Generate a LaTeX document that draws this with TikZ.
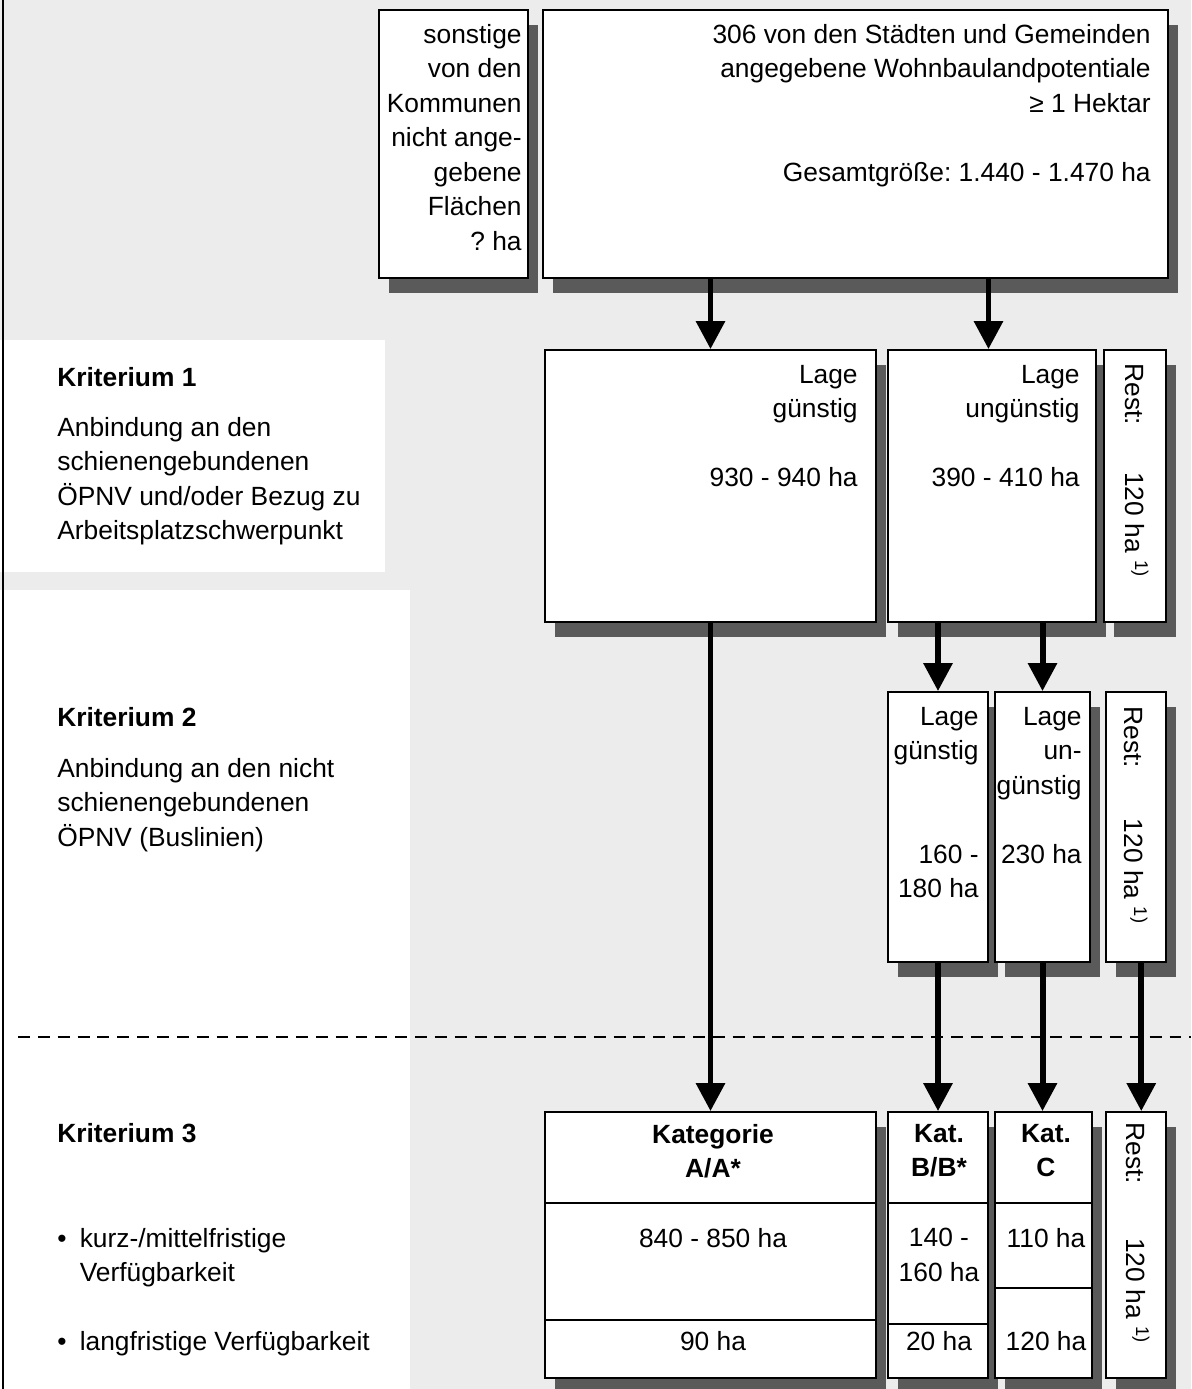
\documentclass[tikz,border=0pt]{standalone}
\usepackage{fontspec}
\setmainfont{Liberation Sans}
\usetikzlibrary{arrows.meta,fit,shadows}
\frenchspacing
\definecolor{scanGray}{HTML}{ECECEC}
\definecolor{shadeGray}{HTML}{5A5A5A}
\tikzset{
  box/.style={draw, line width=1pt, fill=white, inner sep=0pt,
    drop shadow={shadow xshift=5.8pt, shadow yshift=-8.5pt, fill=shadeGray, opacity=1}},
  flow/.style={-{Triangle[width=16pt,length=16pt]}, line width=3.4pt},
  rule/.style={line width=1pt},
  sep/.style={line width=1.2pt, dash pattern=on 6.8pt off 4.5pt},
  lbl/.style={font=\fontsize{15}{19.6}\selectfont, inner sep=0pt},
  head/.style={lbl, font=\fontsize{15}{19.6}\selectfont\bfseries},
  rtxt/.style={lbl, anchor=north east, align=right},
  ctxt/.style={lbl, anchor=north, align=center},
  ltxt/.style={lbl, anchor=north west, align=left},
  rest/.style={lbl, rotate=-90, anchor=west},
}

\begin{document}
\begin{tikzpicture}[x=0.02cm, y=-0.02cm]
  \useasboundingbox (0,0) rectangle (1191,1389);
  \fill[scanGray] (0,0) rectangle (1191,1389);
  \fill[white] (0,340) rectangle (385,572);
  \fill[white] (0,590) rectangle (410,1389);
  \draw[line width=1.6pt] (3,0) -- (3,1389);

  % erste Ebene
  \node[box, fit={(379,10) (528,278)}] (other) {};
  \node[box, fit={(543,10) (1168,278)}] (total) {};
  \node[rtxt] (otherT) at (522,24) {sonstige\\von den\\Kommunen\\nicht ange-\\gebene\\Flächen\\? ha};
  \node[rtxt] (totalT) at (1151,24) {306 von den Städten und Gemeinden\\angegebene Wohnbaulandpotentiale\\≥ 1 Hektar\\[19.6pt]Gesamtgröße: 1.440 - 1.470 ha};

  % Kriterium 1
  \node[head, anchor=north west] (crit1) at (57,367) {Kriterium 1};
  \node[ltxt] (crit1T) at (57,417) {Anbindung an den\\schienengebundenen\\ÖPNV und/oder Bezug zu\\Arbeitsplatzschwerpunkt};
  \node[box, fit={(545,350) (876,622)}] (k1good) {};
  \node[box, fit={(888,350) (1096,622)}] (k1bad) {};
  \node[box, fit={(1104,350) (1166,622)}] (k1rest) {};
  \node[rtxt] (k1goodT) at (858,365) {Lage\\günstig\\[19.6pt]930 - 940 ha};
  \node[rtxt] (k1badT) at (1080,365) {Lage\\ungünstig\\[19.6pt]390 - 410 ha};
  \node[rest] (k1restT) at (1137,363) {Rest:\hspace{27pt}120 ha \textsuperscript{1)}};

  % Kriterium 2
  \node[head, anchor=north west] (crit2) at (57,707) {Kriterium 2};
  \node[ltxt] (crit2T) at (57,758) {Anbindung an den nicht\\schienengebundenen\\ÖPNV (Buslinien)};
  \node[box, fit={(888,692) (988,962)}] (k2good) {};
  \node[box, fit={(995,692) (1090,962)}] (k2bad) {};
  \node[box, fit={(1106,692) (1166,962)}] (k2rest) {};
  \node[rtxt] (k2goodT) at (979,707) {Lage\\günstig\\[39.2pt]160 -\\180 ha};
  \node[rtxt] (k2badT) at (1082,707) {Lage\\un-\\günstig\\[19.6pt]230 ha};
  \node[rest] (k2restT) at (1136,706) {Rest:\hspace{29pt}120 ha \textsuperscript{1)}};

  \draw[sep] (18,1037) -- (1191,1037);

  % Kriterium 3
  \node[head, anchor=north west] (crit3) at (57,1123) {Kriterium 3};
  \node[ltxt] (shortT) at (57,1228) {•\hspace{7.5pt}kurz-/mittelfristige\\\hphantom{•}\hspace{7.5pt}Verfügbarkeit};
  \node[ltxt] (longT) at (57,1331) {•\hspace{7.5pt}langfristige Verfügbarkeit};
  \node[box, fit={(545,1112) (876,1378)}] (katA) {};
  \node[box, fit={(888,1112) (988,1378)}] (katB) {};
  \node[box, fit={(995,1112) (1092,1378)}] (katC) {};
  \node[box, fit={(1106,1112) (1166,1378)}] (k3rest) {};
  \draw[rule] (545,1203) -- (876,1203) (545,1320) -- (876,1320);
  \draw[rule] (888,1203) -- (988,1203) (888,1324) -- (988,1324);
  \draw[rule] (995,1203) -- (1092,1203) (995,1288) -- (1092,1288);
  \node[ctxt, font=\fontsize{15}{19.6}\selectfont\bfseries] (katAH) at (713,1124) {Kategorie\\A/A*};
  \node[ctxt, font=\fontsize{15}{19.6}\selectfont\bfseries] (katBH) at (939,1124) {Kat.\\B/B*};
  \node[ctxt, font=\fontsize{15}{19.6}\selectfont\bfseries] (katCH) at (1046,1124) {Kat.\\C};
  \node[ctxt] (katAa) at (713,1228) {840 - 850 ha};
  \node[ctxt] (katAb) at (713,1331) {90 ha};
  \node[ctxt] (katBa) at (939,1228) {140 -\\160 ha};
  \node[ctxt] (katBb) at (939,1331) {20 ha};
  \node[ctxt] (katCa) at (1046,1228) {110 ha};
  \node[ctxt] (katCb) at (1046,1331) {120 ha};
  \node[rest] (k3restT) at (1138,1122) {Rest:\hspace{31pt}120 ha \textsuperscript{1)}};

  % Pfeile
  \draw[flow] (total.south -| k1good) -- (k1good.north);
  \draw[flow] ([xshift=-2pt]total.south -| k1bad) -- ([xshift=-2pt]k1bad.north);
  \draw[flow] (k1bad.south -| k2good) -- (k2good.north);
  \draw[flow] (k1bad.south -| k2bad) -- (k2bad.north);
  \draw[flow] (k1good.south) -- (katA.north);
  \draw[flow] (k2good.south) -- (k2good.south |- katB.north);
  \draw[flow] (k2bad.south) -- (k2bad.south |- katC.north);
  \draw[flow] ([xshift=3pt]k2rest.south) -- ([xshift=3pt]k3rest.north);
\end{tikzpicture}
\end{document}
